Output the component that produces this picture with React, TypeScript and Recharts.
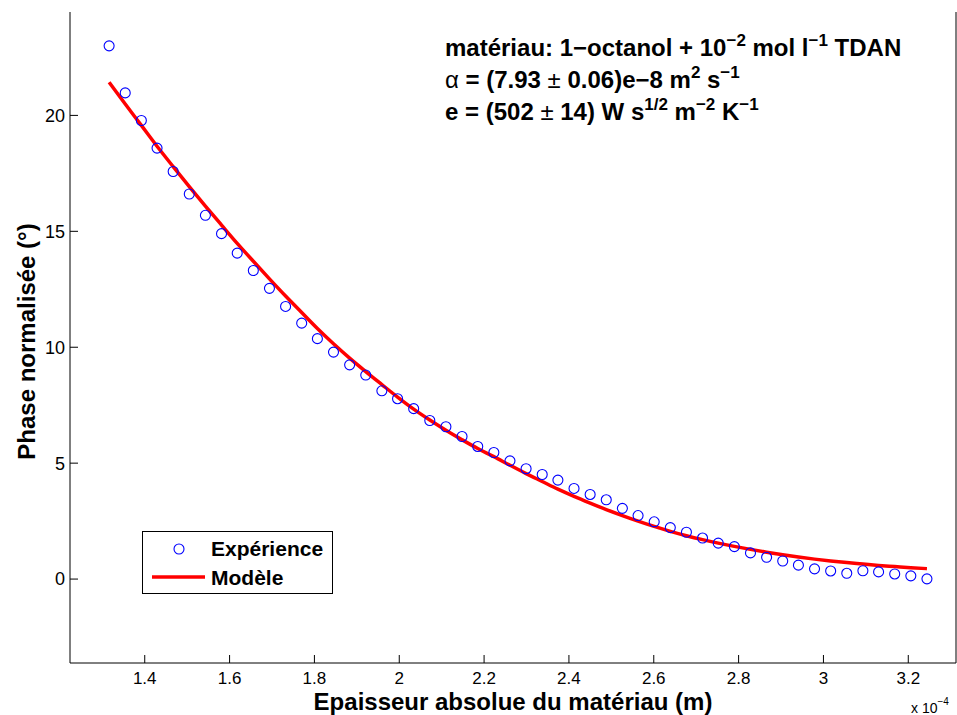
import React from "react";
import { ComposedChart, Line, Scatter, XAxis, YAxis, Legend, Label } from "recharts";

// epaisseur (x 1e-4 m)
const thickness = [
  1.316, 1.354, 1.392, 1.429, 1.467, 1.505, 1.543, 1.581, 1.618, 1.656,
  1.694, 1.732, 1.77, 1.807, 1.845, 1.883, 1.921, 1.959, 1.996, 2.034,
  2.072, 2.11, 2.148, 2.185, 2.223, 2.261, 2.299, 2.337, 2.374, 2.412,
  2.45, 2.488, 2.526, 2.563, 2.601, 2.639, 2.677, 2.715, 2.752, 2.79,
  2.828, 2.866, 2.904, 2.941, 2.979, 3.017, 3.055, 3.093, 3.13, 3.168,
  3.206, 3.244,
];

const phaseExp = [
  23.0, 20.97, 19.78, 18.59, 17.58, 16.61, 15.69, 14.9, 14.06, 13.31,
  12.54, 11.76, 11.04, 10.37, 9.79, 9.24, 8.8, 8.12, 7.78, 7.35,
  6.84, 6.57, 6.15, 5.72, 5.46, 5.1, 4.76, 4.51, 4.27, 3.91,
  3.65, 3.42, 3.05, 2.74, 2.47, 2.22, 2.02, 1.77, 1.55, 1.4,
  1.13, 0.94, 0.78, 0.6, 0.44, 0.35, 0.25, 0.36, 0.31, 0.22,
  0.14, 0.01,
];

const phaseModel = [
  21.43, 20.49, 19.57, 18.67, 17.79, 16.93, 16.09, 15.27, 14.48, 13.71,
  12.95, 12.21, 11.5, 10.81, 10.15, 9.53, 8.95, 8.39, 7.85, 7.33,
  6.86, 6.42, 6.01, 5.63, 5.28, 4.91, 4.55, 4.21, 3.88, 3.57,
  3.28, 3.0, 2.74, 2.5, 2.27, 2.06, 1.87, 1.7, 1.55, 1.41,
  1.28, 1.16, 1.05, 0.95, 0.86, 0.78, 0.71, 0.65, 0.59, 0.54,
  0.49, 0.45,
];

const xTicks = [1.4, 1.6, 1.8, 2, 2.2, 2.4, 2.6, 2.8, 3, 3.2];
const yTicks = [0, 5, 10, 15, 20];
const xDomain = [1.2238, 3.3125];
const yDomain = [-3.62, 24.46];

const data = thickness.map((x, i) => ({ x, exp: phaseExp[i], model: phaseModel[i] }));

const FONT = "'Liberation Sans', Arial, Helvetica, sans-serif";
const SUP = 17;
const RISE = 10;

const Circle = (p: any) => (
  <circle cx={p.cx} cy={p.cy} r={5} fill="none" stroke="#0000ff" strokeWidth={1.1} />
);

const LegendBox = () => (
  <div
    style={{
      width: 191,
      height: 63,
      border: "1px solid #000",
      background: "#fff",
      boxSizing: "border-box",
    }}
  >
    <svg width={189} height={61} style={{ display: "block" }}>
      <circle cx={36} cy={17} r={5} fill="none" stroke="#0000ff" strokeWidth={1.1} />
      <text x={68} y={24} fontFamily={FONT} fontWeight="bold" fontSize={21} fill="#000">
        Expérience
      </text>
      <line x1={9} x2={62} y1={45} y2={45} stroke="#ff0000" strokeWidth={3.5} />
      <text x={68} y={53} fontFamily={FONT} fontWeight="bold" fontSize={21} fill="#000">
        Modèle
      </text>
    </svg>
  </div>
);

export default function App() {
  return (
    <div style={{ position: "absolute", left: 0, top: 0, width: 957, height: 715, background: "#fff" }}>
      <ComposedChart
        width={957}
        height={715}
        data={data}
        margin={{ top: 12, right: 0, bottom: 12, left: 10 }}
      >
        <XAxis
          xAxisId="b"
          dataKey="x"
          type="number"
          domain={xDomain}
          ticks={xTicks}
          interval={0}
          allowDataOverflow
          height={40}
          stroke="#000"
          tickSize={-8}
          tickMargin={17}
          tick={{ fill: "#000", fontSize: 17, fontFamily: FONT }}
        >
          <Label
            content={(p: any) => (
              <text
                x={p.viewBox.x + p.viewBox.width / 2}
                y={p.viewBox.y + 47}
                textAnchor="middle"
                fontFamily={FONT}
                fontWeight="bold"
                fontSize={24}
                fill="#000"
              >
                Epaisseur absolue du matériau (m)
              </text>
            )}
          />
        </XAxis>
        <XAxis
          xAxisId="t"
          dataKey="x"
          type="number"
          orientation="top"
          domain={xDomain}
          ticks={xTicks}
          interval={0}
          allowDataOverflow
          height={0}
          stroke="#000"
          tickSize={-8}
          tick={false}
        />
        <YAxis
          yAxisId="l"
          type="number"
          domain={yDomain}
          ticks={yTicks}
          interval={0}
          allowDataOverflow
          width={60}
          stroke="#000"
          tickSize={-8}
          tickMargin={13}
          tick={{ fill: "#000", fontSize: 18, fontFamily: FONT }}
        >
          <Label
            content={(p: any) => {
              const cx = p.viewBox.x + 25;
              const cy = p.viewBox.y + p.viewBox.height / 2 + 4;
              return (
                <text
                  x={cx}
                  y={cy}
                  transform={`rotate(-90 ${cx} ${cy})`}
                  textAnchor="middle"
                  fontFamily={FONT}
                  fontWeight="bold"
                  fontSize={24}
                  fill="#000"
                >
                  Phase normalisée (°)
                </text>
              );
            }}
          />
        </YAxis>
        <YAxis
          yAxisId="r"
          orientation="right"
          type="number"
          domain={yDomain}
          ticks={yTicks}
          interval={0}
          allowDataOverflow
          width={1}
          stroke="#000"
          tickSize={-8}
          tick={false}
        />
        <Line
          xAxisId="b"
          yAxisId="l"
          type="monotone"
          dataKey="model"
          stroke="#ff0000"
          strokeWidth={3.5}
          dot={false}
          activeDot={false}
          isAnimationActive={false}
        />
        <Scatter
          xAxisId="b"
          yAxisId="l"
          dataKey="exp"
          shape={Circle}
          isAnimationActive={false}
        />
        <Legend
          layout="horizontal"
          verticalAlign="middle"
          align="center"
          content={() => <LegendBox />}
          wrapperStyle={{ position: "absolute", left: 142, top: 531, width: 191, height: 63 }}
        />
      </ComposedChart>
      <svg
        width={957}
        height={715}
        style={{ position: "absolute", left: 0, top: 0, pointerEvents: "none" }}
      >
        <g fontFamily={FONT} fontWeight="bold" fontSize={24} fill="#000">
          <text x={445} y={56}>
            <tspan>matériau: 1−octanol + 10</tspan>
            <tspan dy={-RISE} fontSize={SUP}>−2</tspan>
            <tspan dy={RISE}> mol l</tspan>
            <tspan dy={-RISE} fontSize={SUP}>−1</tspan>
            <tspan dy={RISE}> TDAN</tspan>
          </text>
          <text x={445} y={88}>
            <tspan fontWeight="normal">α</tspan>
            <tspan> = (7.93 </tspan>
            <tspan fontWeight="normal">±</tspan>
            <tspan> 0.06)e−8 m</tspan>
            <tspan dy={-RISE} fontSize={SUP}>2</tspan>
            <tspan dy={RISE}> s</tspan>
            <tspan dy={-RISE} fontSize={SUP}>−1</tspan>
          </text>
          <text x={445} y={120}>
            <tspan>e = (502 </tspan>
            <tspan fontWeight="normal">±</tspan>
            <tspan> 14) W s</tspan>
            <tspan dy={-RISE} fontSize={SUP}>1/2</tspan>
            <tspan dy={RISE}> m</tspan>
            <tspan dy={-RISE} fontSize={SUP}>−2</tspan>
            <tspan dy={RISE}> K</tspan>
            <tspan dy={-RISE} fontSize={SUP}>−1</tspan>
          </text>
        </g>
        <text x={911} y={713} fontFamily={FONT} fontSize={14} fill="#000">
          <tspan>x 10</tspan>
          <tspan dy={-8} fontSize={10}>−4</tspan>
        </text>
      </svg>
    </div>
  );
}
